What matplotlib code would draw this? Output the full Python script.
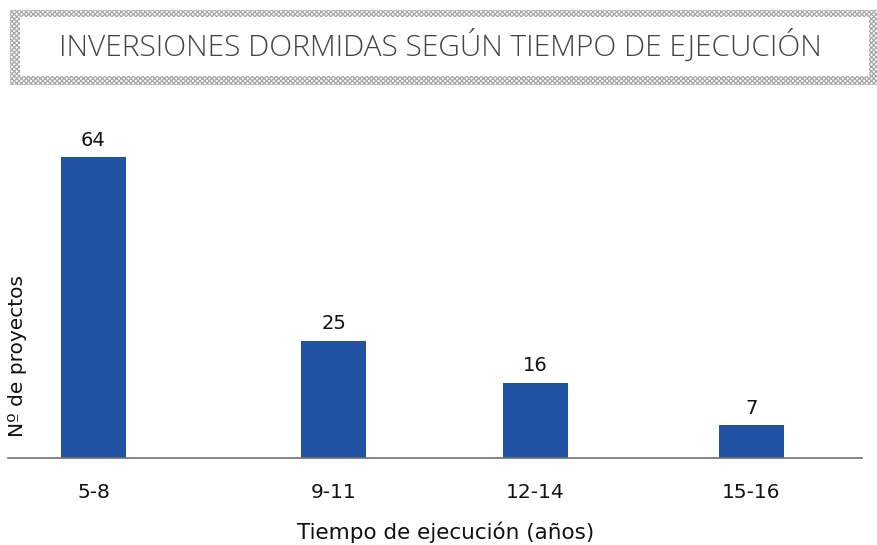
import matplotlib.pyplot as plt
from matplotlib.patches import Rectangle

categories = ["5-8", "9-11", "12-14", "15-16"]
counts = [64, 25, 16, 7]
positions = [0, 2.5, 4.6, 6.85]

bar_color = "#2253A3"
plt.rcParams["hatch.linewidth"] = 0.9
plt.rcParams["hatch.color"] = "#a8a8a8"

fig = plt.figure(figsize=(8.77, 5.45), dpi=100)
W, H = 877, 545

# title box with crosshatch frame
frame = Rectangle((10 / W, 1 - 85 / H), 867 / W, 75 / H, transform=fig.transFigure,
                  facecolor="white", edgecolor="#a8a8a8", hatch="xxxxxxx", linewidth=0)
inner = Rectangle((20 / W, 1 - 76 / H), 849 / W, 59 / H, transform=fig.transFigure,
                  facecolor="white", edgecolor="none")
fig.patches.extend([frame, inner])
fig.text(440 / W, 1 - 56 / H, "INVERSIONES DORMIDAS SEGÚN TIEMPO DE EJECUCIÓN",
         ha="center", va="baseline", fontsize=21.5, color="#444444",
         family="Open Sans", fontweight="light")

ax = fig.add_axes([8 / W, 87 / H, 854 / W, 358 / H])
ax.bar(positions, counts, width=0.68, color=bar_color)
ax.set_xlim(-0.89, 8.0)
ax.set_ylim(0, 76.2)

for x, v in zip(positions, counts):
    ax.text(x, v + 1.6, str(v), ha="center", va="bottom", fontsize=14,
            family="DejaVu Sans", color="#111111")

for s in ["top", "right", "left"]:
    ax.spines[s].set_visible(False)
ax.spines["bottom"].set_color("#707070")
ax.spines["bottom"].set_linewidth(1.2)
ax.set_yticks([])
ax.set_xticks(positions)
ax.set_xticklabels(categories, family="DejaVu Sans", fontsize=14.5)
ax.tick_params(axis="x", length=0, pad=18, labelcolor="#111111")

fig.text(446 / W, 1 - 532 / H, "Tiempo de ejecución (años)", ha="center", va="center",
         fontsize=15.5, family="DejaVu Sans", color="#111111")
fig.text(18 / W, 1 - 356 / H, "Nº de proyectos", ha="center", va="center",
         rotation=90, fontsize=14.5, family="DejaVu Sans", color="#111111")

fig.savefig("out.png", dpi=100)
